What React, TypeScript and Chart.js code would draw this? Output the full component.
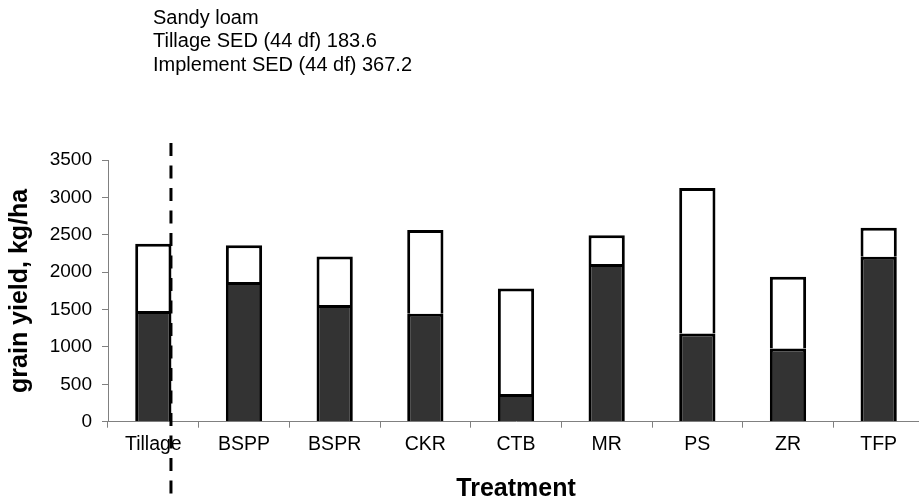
import React, { useEffect, useRef } from "react";
import { Chart, registerables } from "chart.js";

Chart.register(...registerables);

const categories = ["Tillage", "BSPP", "BSPR", "CKR", "CTB", "MR", "PS", "ZR", "TFP"];
const lowerValues = [1480, 1870, 1560, 1445, 370, 2110, 1180, 980, 2205];
const upperValues = [900, 490, 650, 1120, 1410, 385, 1945, 960, 390];
const titleLines = ["Sandy loam", "Tillage SED (44 df) 183.6", "Implement SED (44 df) 367.2"];
const yTicks = [0, 500, 1000, 1500, 2000, 2500, 3000, 3500];

const FONT = '"Liberation Sans", Arial, sans-serif';

const annotationPlugin = {
  id: "annotations",
  afterDraw(chart: any) {
    const ctx = chart.ctx;
    ctx.save();
    ctx.fillStyle = "#000";
    ctx.font = `20px ${FONT}`;
    ctx.textAlign = "left";
    ctx.textBaseline = "middle";
    titleLines.forEach((t, i) => ctx.fillText(t, 153, 18 + i * 23.5));
    const meta = chart.getDatasetMeta(0);
    const bar = meta.data[0];
    const x = bar.x + bar.width / 2 - 0.5;
    ctx.strokeStyle = "#000";
    ctx.lineWidth = 3;
    ctx.setLineDash([13, 9.5]);
    ctx.beginPath();
    ctx.moveTo(x, 143);
    ctx.lineTo(x, 502);
    ctx.stroke();
    ctx.restore();
  },
};

export default function App() {
  const ref = useRef<HTMLCanvasElement>(null);
  useEffect(() => {
    if (!ref.current) return;
    const chart = new Chart(ref.current, {
      type: "bar",
      data: {
        labels: categories,
        datasets: [
          {
            data: lowerValues,
            backgroundColor: "#333333",
            borderColor: "#000",
            borderWidth: 3,
            barPercentage: 0.4,
            categoryPercentage: 1,
          },
          {
            data: upperValues,
            backgroundColor: "#ffffff",
            borderColor: "#000",
            borderWidth: 3,
            barPercentage: 0.4,
            categoryPercentage: 1,
          },
        ],
      },
      options: {
        responsive: false,
        animation: false,
        devicePixelRatio: 1,
        layout: { padding: { top: 160, left: 0, right: 0, bottom: 0 } },
        plugins: { legend: { display: false }, tooltip: { enabled: false }, title: { display: false } },
        scales: {
          x: {
            stacked: true,
            afterFit: (s: any) => {
              s.height = 80.3;
            },
            grid: { display: true, drawOnChartArea: false, drawTicks: true, tickLength: 6, color: "#808080", offset: true },
            border: { display: true, color: "#808080", width: 1 },
            ticks: { color: "#000", font: { family: FONT, size: 19.5 }, padding: 5, maxRotation: 0, autoSkip: false },
            title: {
              display: true,
              text: "Treatment",
              color: "#000",
              font: { family: FONT, size: 25, weight: "bold", lineHeight: 1 },
              padding: { top: 0, bottom: 0 },
            },
          },
          y: {
            stacked: true,
            min: 0,
            max: 3500,
            afterFit: (s: any) => {
              s.width = 108;
            },
            afterBuildTicks: (s: any) => {
              s.ticks = yTicks.map((v) => ({ value: v }));
            },
            grid: { display: true, drawOnChartArea: false, drawTicks: true, tickLength: 6, color: "#808080" },
            border: { display: true, color: "#808080", width: 1 },
            ticks: {
              color: "#000",
              font: { family: FONT, size: 19 },
              padding: 10,
              callback: (v: any) => String(v),
            },
            title: {
              display: true,
              text: "grain yield, kg/ha",
              color: "#000",
              font: { family: FONT, size: 25, weight: "bold", lineHeight: 1 },
              padding: { top: 7.5, bottom: 0 },
            },
          },
        },
      },
      plugins: [annotationPlugin],
    });
    return () => chart.destroy();
  }, []);
  return (
    <div style={{ position: "fixed", left: 0, top: 0, width: 919, height: 502, overflow: "hidden", background: "#fff" }}>
      <canvas ref={ref} width={924} height={502} style={{ display: "block", width: 924, height: 502 }} />
    </div>
  );
}
